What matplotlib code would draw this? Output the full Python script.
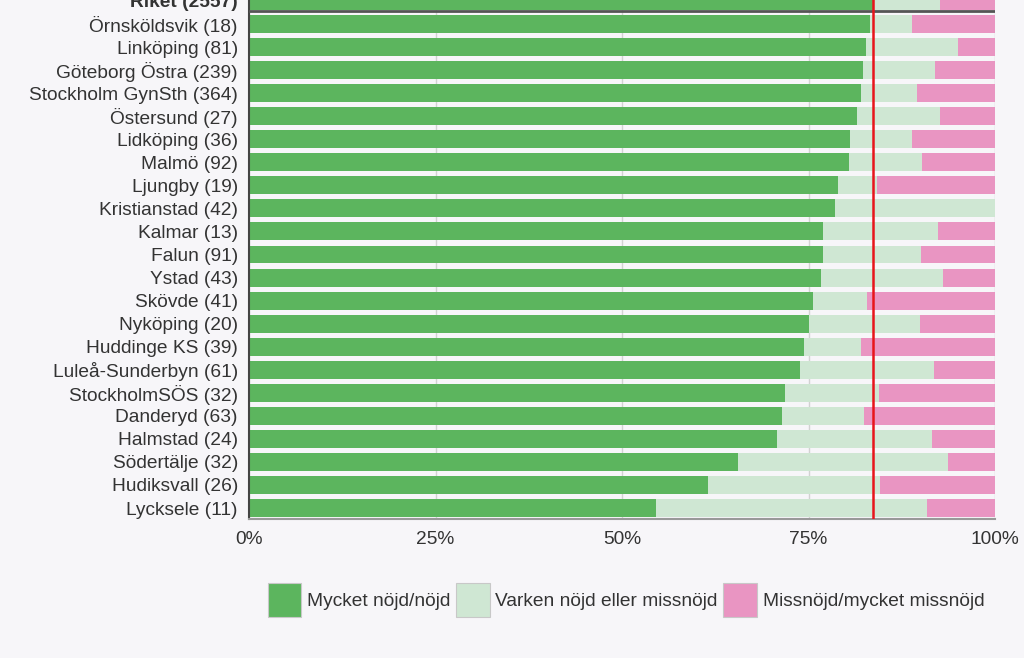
import matplotlib
matplotlib.use("Agg")
import matplotlib.pyplot as plt
import matplotlib.patches as mpatches
import numpy as np

plt.rcParams['font.family'] = ['Liberation Sans', 'DejaVu Sans']

# data (percent)
units = ["Riket (2557)", "Örnsköldsvik (18)", "Linköping (81)", "Göteborg Östra (239)",
         "Stockholm GynSth (364)", "Östersund (27)", "Lidköping (36)", "Malmö (92)",
         "Ljungby (19)", "Kristianstad (42)", "Kalmar (13)", "Falun (91)", "Ystad (43)",
         "Skövde (41)", "Nyköping (20)", "Huddinge KS (39)", "Luleå-Sunderbyn (61)",
         "StockholmSÖS (32)", "Danderyd (63)", "Halmstad (24)", "Södertälje (32)",
         "Hudiksvall (26)", "Lycksele (11)"]
satisfied = [83.6, 83.3, 82.7, 82.3, 82.0, 81.5, 80.6, 80.4, 78.9, 78.6, 76.9, 76.9, 76.7,
             75.6, 75.0, 74.4, 73.8, 71.9, 71.4, 70.8, 65.6, 61.5, 54.5]
neutral = [9.0, 5.6, 12.4, 9.7, 7.5, 11.1, 8.3, 9.8, 5.3, 21.4, 15.4, 13.2, 16.3,
           7.3, 15.0, 7.7, 18.0, 12.5, 11.1, 20.8, 28.1, 23.1, 36.4]
labels = ["Mycket nöjd/nöjd", "Varken nöjd eller missnöjd", "Missnöjd/mycket missnöjd"]
colors = ["#5cb55e", "#cfe7d3", "#e995c2"]
riket_value = satisfied[0]

sat = np.array(satisfied)
neu = np.array(neutral)
dis = 100 - sat - neu

bg = "#f7f6f9"
fig = plt.figure(figsize=(10.24, 6.58), dpi=100, facecolor=bg)
ax = fig.add_axes([249/1024, 1 - 519/658, 746/1024, 519/658])
ax.set_facecolor(bg)

y = np.arange(len(units))
h = 0.78
ax.barh(y, sat, height=h, color=colors[0], zorder=2)
ax.barh(y, neu, left=sat, height=h, color=colors[1], zorder=2)
ax.barh(y, dis, left=sat + neu, height=h, color=colors[2], zorder=2)

ax.set_ylim(len(units) - 1 + 11/23.05, -1/23.05)
ax.set_xlim(0, 100)

# separator below the national row and the national reference line
ax.axhline(0.45, color="#555555", lw=2, zorder=3)
ax.axvline(riket_value, color="#e8141b", lw=1.8, zorder=4)

ax.set_xticks([0, 25, 50, 75, 100])
ax.set_xticklabels(["0%", "25%", "50%", "75%", "100%"])
ax.set_yticks(y)
ax.set_yticklabels(units)
ax.get_yticklabels()[0].set_fontweight("bold")
ax.tick_params(axis="both", length=0, labelsize=13.8, colors="#333333")
ax.tick_params(axis="y", pad=8)
ax.tick_params(axis="x", pad=9)
ax.grid(axis="x", color="#d2d2d2", lw=1, zorder=0)

for s in ["top", "right"]:
    ax.spines[s].set_visible(False)
ax.spines["left"].set_color("#444444")
ax.spines["left"].set_linewidth(1.5)
ax.spines["bottom"].set_color("#999999")
ax.spines["bottom"].set_linewidth(1.5)

handles = [mpatches.Patch(facecolor=c, edgecolor="#c8c8c8", lw=0.8) for c in colors]
fig.legend(handles, labels, loc="center", bbox_to_anchor=(626/1024, 1 - 600/658),
           ncol=3, frameon=False, fontsize=13.8, handlelength=1.75, handleheight=2.3,
           handletextpad=0.3, columnspacing=0.3, labelcolor="#333333")

fig.savefig("out.png", dpi=100, facecolor=bg)
